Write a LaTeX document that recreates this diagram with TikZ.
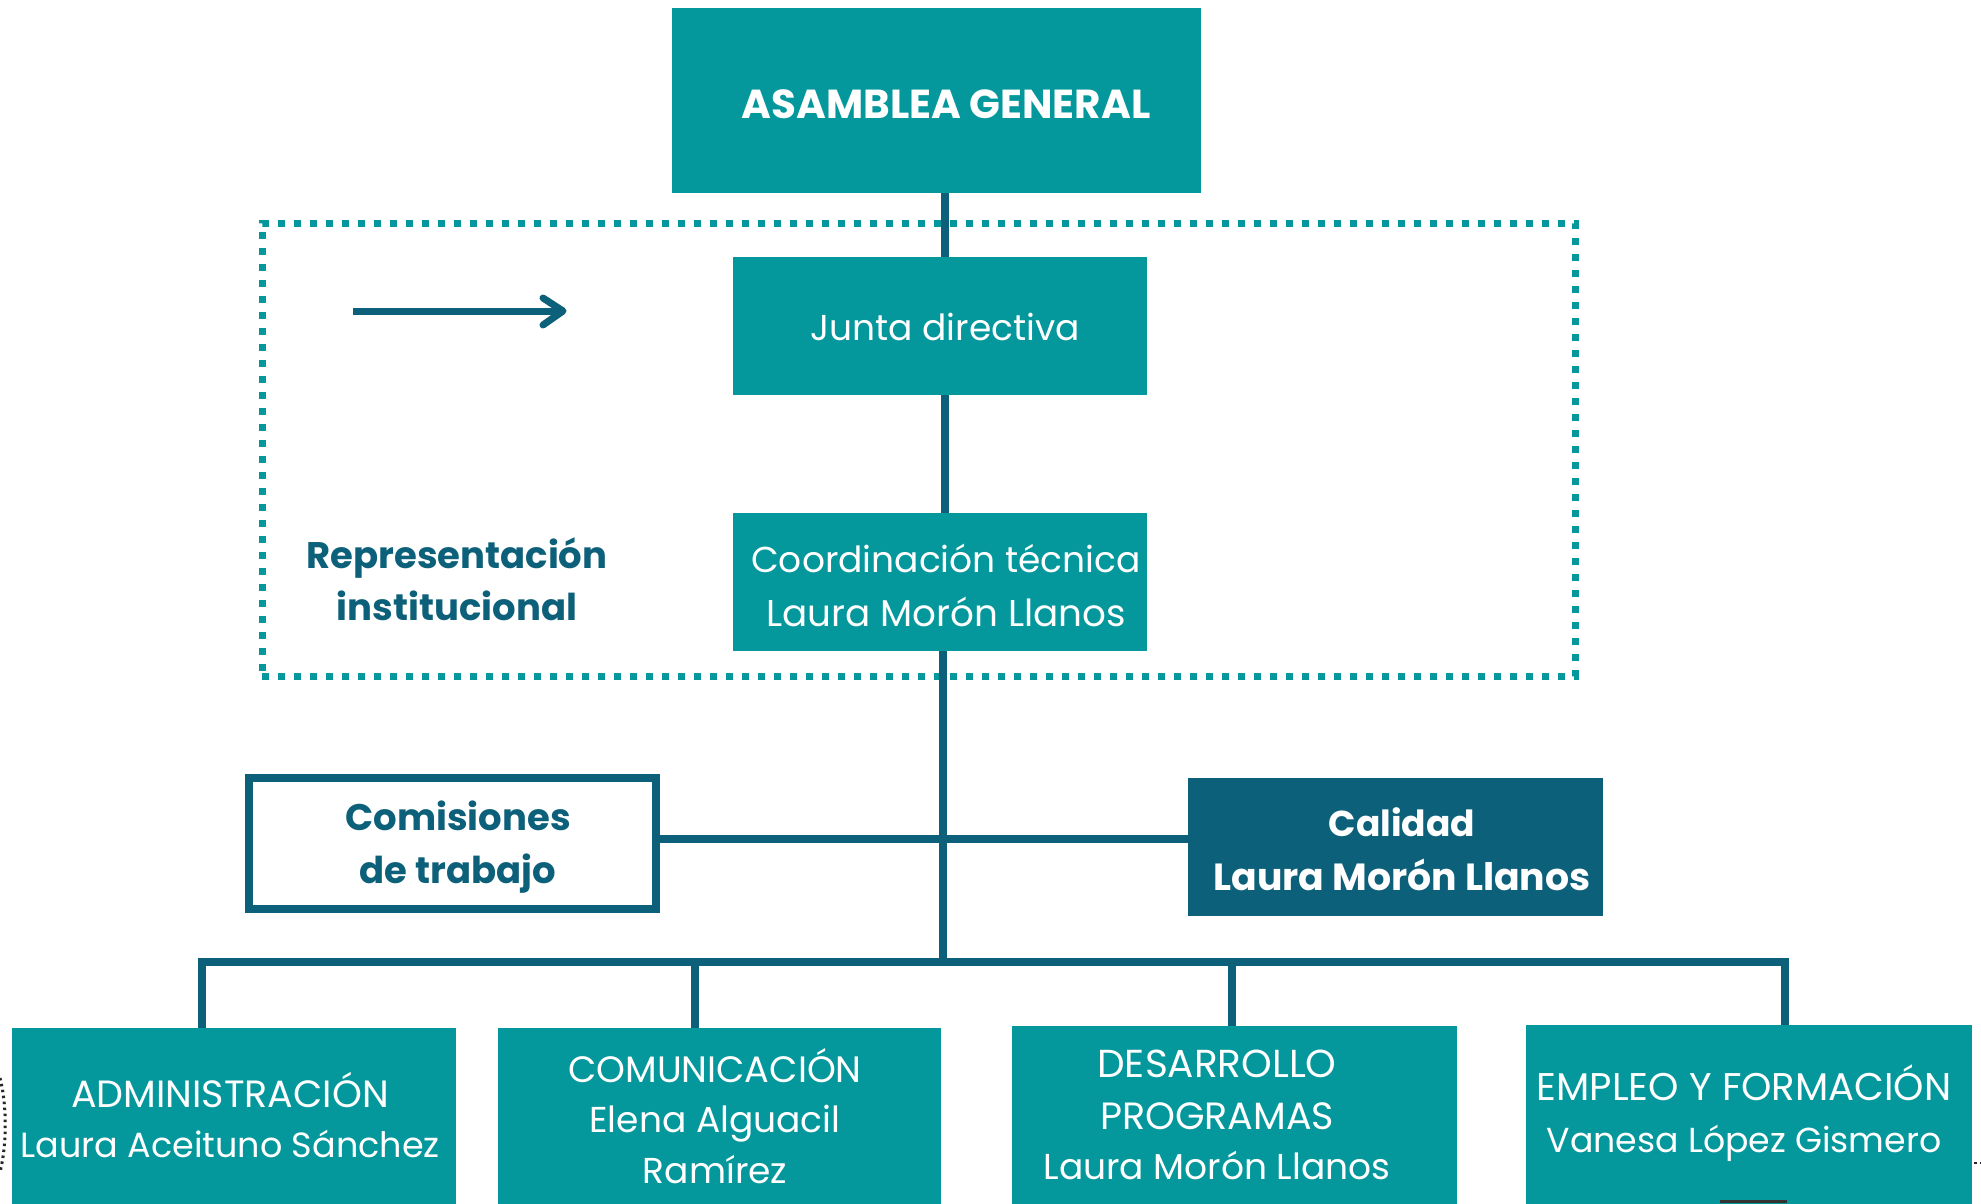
\documentclass[tikz,border=0pt]{standalone}
\usepackage{fontspec}
\setmainfont{Poppins}
\definecolor{teal1}{RGB}{4,152,157}
\definecolor{navy1}{RGB}{13,96,121}
\begin{document}
\begin{tikzpicture}[x=1pt,y=-1pt,
  box/.style={fill=teal1, draw=none, inner sep=0pt},
  navybox/.style={fill=navy1, draw=none, inner sep=0pt},
  wbox/.style={fill=white, draw=navy1, line width=8pt, inner sep=0pt},
  grpbox/.style={draw=teal1, line width=7pt, dash pattern=on 7pt off 9pt, inner sep=0pt},
  link/.style={draw=navy1, line width=7.5pt},
  wt/.style={anchor=base, text=white, inner sep=0pt, font=\fontsize{36}{40}\selectfont},
  wtc/.style={anchor=base, text=white, inner sep=0pt, font=\fontsize{38}{40}\selectfont},
  wbt/.style={anchor=base, text=white, inner sep=0pt, font=\fontsize{36}{40}\selectfont\bfseries},
  nbt/.style={anchor=base, text=navy1, inner sep=0pt, font=\fontsize{37}{40}\selectfont\bfseries}
]
\useasboundingbox (0,0) rectangle (1981,1203);
\clip (0,0) rectangle (1981,1203);
\fill[white] (0,0) rectangle (1981,1203);

% group box
\node[grpbox, minimum width=1313pt, minimum height=453pt] (grp) at (918.5,449.5) {};

% boxes
\node[box, minimum width=529pt, minimum height=185pt] (asam) at (936.5,100.5) {};
\node[box, minimum width=414pt, minimum height=138pt] (junta) at (940,326) {};
\node[box, minimum width=414pt, minimum height=138pt] (coord) at (940,582) {};
\node[wbox, minimum width=407pt, minimum height=131pt] (comis) at (452.5,843.5) {};
\node[navybox, minimum width=415pt, minimum height=138pt] (calid) at (1395.5,847) {};
\node[box, minimum width=444pt, minimum height=184pt] (admin) at (234,1120) {};
\node[box, minimum width=443pt, minimum height=184pt] (comun) at (719.5,1120) {};
\node[box, minimum width=445pt, minimum height=186pt] (desa) at (1234.5,1119) {};
\node[box, minimum width=446pt, minimum height=187pt] (empl) at (1749,1118.5) {};

% connector coordinates
\coordinate (tr) at (945,0);
\coordinate (tr2) at (943,0);
\coordinate (hy) at (0,839);
\coordinate (barL) at (202,962);
\coordinate (barR) at (1785,962);
\coordinate (dC) at (695,962);
\coordinate (dD) at (1232,962);

% connectors
\draw[link] (asam.south -| tr) -- (junta.north -| tr);
\draw[link] (junta.south -| tr) -- (coord.north -| tr);
\draw[link] (coord.south -| tr2) -- (barL -| tr2);
\draw[link] (comis.east |- hy) -- (calid.west |- hy);
\draw[link] ([xshift=-3.75pt]barL) -- ([xshift=3.75pt]barR);
\draw[link] (barL) -- (barL |- admin.north);
\draw[link] (dC) -- (dC |- comun.north);
\draw[link] (dD) -- (dD |- desa.north);
\draw[link] (barR) -- (barR |- empl.north);

% free arrow
\coordinate (ar0) at (353,311);
\coordinate (ar1) at (563,311);
\coordinate (arA) at (543,298);
\coordinate (arB) at (543,325);
\draw[navy1, line width=7pt] (ar0) -- ([xshift=-3pt]ar1);
\draw[navy1, line width=7pt, line cap=round, line join=round] (arA) -- (ar1) -- (arB);

% texts
\node[wbt, font=\fontsize{40.5}{44}\selectfont\bfseries] (tAsam) at (946,118) {ASAMBLEA GENERAL};
\node[wt] (tJunta) at (945,340) {Junta directiva};
\node[wt] (tCoord1) at (946,572) {Coordinación técnica};
\node[wt, font=\fontsize{37.3}{40}\selectfont] (tCoord2) at (946,626) {Laura Morón Llanos};
\node[nbt] (tRep1) at (457,568) {Representación};
\node[nbt] (tRep2) at (457,620) {institucional};
\node[nbt] (tCom1) at (458,830) {Comisiones};
\node[nbt] (tCom2) at (458,883) {de trabajo};
\node[wbt] (tCal1) at (1402,836) {Calidad};
\node[wbt, font=\fontsize{37.8}{40}\selectfont\bfseries] (tCal2) at (1402,890) {Laura Morón Llanos};
\node[wtc] (tAd1) at (230,1107) {ADMINISTRACIÓN};
\node[wt, font=\fontsize{35}{40}\selectfont] (tAd2) at (230,1157) {Laura Aceituno Sánchez};
\node[wtc, font=\fontsize{36.7}{40}\selectfont] (tCo1) at (715,1082) {COMUNICACIÓN};
\node[wt] (tCo2) at (715,1132) {Elena Alguacil};
\node[wt] (tCo3) at (715,1183) {Ramírez};
\node[wtc, font=\fontsize{39}{40}\selectfont] (tDe1) at (1217,1077) {DESARROLLO};
\node[wtc] (tDe2) at (1217,1129) {PROGRAMAS};
\node[wt] (tDe3) at (1217,1179) {Laura Morón Llanos};
\node[wtc, font=\fontsize{38.6}{40}\selectfont] (tEm1) at (1744,1100) {EMPLEO Y FORMACIÓN};
\node[wt, font=\fontsize{34.7}{40}\selectfont] (tEm2) at (1744,1152) {Vanesa López Gismero};

% edge fragments
\draw[black!85, line width=3pt, dash pattern=on 2.5pt off 3.5pt] (0,1078) .. controls (7,1105) and (7,1145) .. (0,1172);
\draw[black!85, line width=2.5pt, dash pattern=on 2.5pt off 3.5pt] (1974,1163) -- (1981,1163);
\fill[black!80] (1720,1200) rectangle (1787,1203);
\end{tikzpicture}
\end{document}
